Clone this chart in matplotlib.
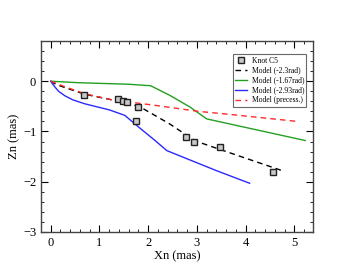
import numpy as np
import matplotlib.pyplot as plt
from matplotlib.ticker import MultipleLocator

# Datos
knot_x = [0.68, 1.37, 1.49, 1.56, 1.80, 1.74, 2.77, 2.94, 3.47, 4.56]
knot_z = [-0.28, -0.36, -0.40, -0.42, -0.51, -0.79, -1.10, -1.20, -1.31, -1.80]

m23_x = [0.0, 0.1, 0.3, 0.7, 1.25, 1.6, 1.83, 2.1, 2.44, 2.75, 3.0, 3.6, 4.75]
m23_z = [0.0, -0.06, -0.13, -0.26, -0.37, -0.44, -0.51, -0.66, -0.85, -1.05, -1.20, -1.40, -1.78]

m167_x = [0.0, 0.57, 1.59, 2.05, 2.44, 2.85, 3.2, 3.67, 5.22]
m167_z = [0.0, -0.03, -0.06, -0.09, -0.28, -0.51, -0.75, -0.85, -1.18]

m293_x = [0.0, 0.04, 0.09, 0.16, 0.29, 0.45, 0.70, 0.95, 1.20, 1.52, 1.80, 2.14, 2.38, 3.40, 4.08]
m293_z = [0.0, -0.06, -0.12, -0.20, -0.29, -0.37, -0.45, -0.51, -0.57, -0.68, -0.91, -1.18, -1.38, -1.78, -2.03]

prec_x = [0.0, 0.29, 0.70, 1.25, 1.42, 2.14, 2.44, 3.03, 3.67, 5.06]
prec_z = [0.0, -0.11, -0.25, -0.37, -0.39, -0.48, -0.52, -0.60, -0.66, -0.80]

plt.rcParams['font.family'] = ['Liberation Serif', 'DejaVu Serif']

fig = plt.figure(figsize=(3.53, 2.73), dpi=100)
ax = fig.add_axes([41 / 353, 1 - 232 / 273, 272 / 353, 191 / 273])

ax.plot(knot_x, knot_z, ls='none', marker='s', ms=5, mfc='#c8c8c8', mec='#222222', mew=1.0,
        label='Knot C5', zorder=5)
ax.plot(m23_x, m23_z, color='black', ls=(0, (4, 3)), lw=1.0, label='Model (-2.3rad)')
ax.plot(m167_x, m167_z, color='#22a022', lw=1.0, label='Model (-1.67rad)')
ax.plot(m293_x, m293_z, color='#2a2aff', lw=1.0, label='Model (-2.93rad)')
ax.plot(prec_x, prec_z, color='#ff2a2a', ls=(0, (4, 3)), lw=1.0, label='Model (precess.)')

ax.set_xlim(-0.2, 5.38)
ax.set_ylim(-3, 0.8)
ax.set_xticks([0, 1, 2, 3, 4, 5])
ax.set_yticks([-3, -2, -1, 0])
ax.xaxis.set_minor_locator(MultipleLocator(0.2))
ax.yaxis.set_minor_locator(MultipleLocator(0.2))
ax.tick_params(which='both', direction='in', top=True, right=True, labelsize=9)
ax.tick_params(which='major', length=5, width=0.8)
ax.tick_params(which='minor', length=2.5, width=0.6)
for s in ax.spines.values():
    s.set_linewidth(1.0)
    s.set_color('#444444')

ax.set_xlabel('Xn (mas)', fontsize=9, labelpad=1)
ax.set_ylabel('Zn (mas)', fontsize=9, labelpad=2)

leg = ax.legend(loc='upper right', bbox_to_anchor=(0.99, 0.95), fontsize=5.5, frameon=True,
                fancybox=False, edgecolor='#444444', handlelength=1.6, borderpad=0.3,
                labelspacing=0.25, handletextpad=0.6, markerscale=0.8)
leg.get_frame().set_linewidth(0.8)

plt.savefig('out.png', dpi=100)
